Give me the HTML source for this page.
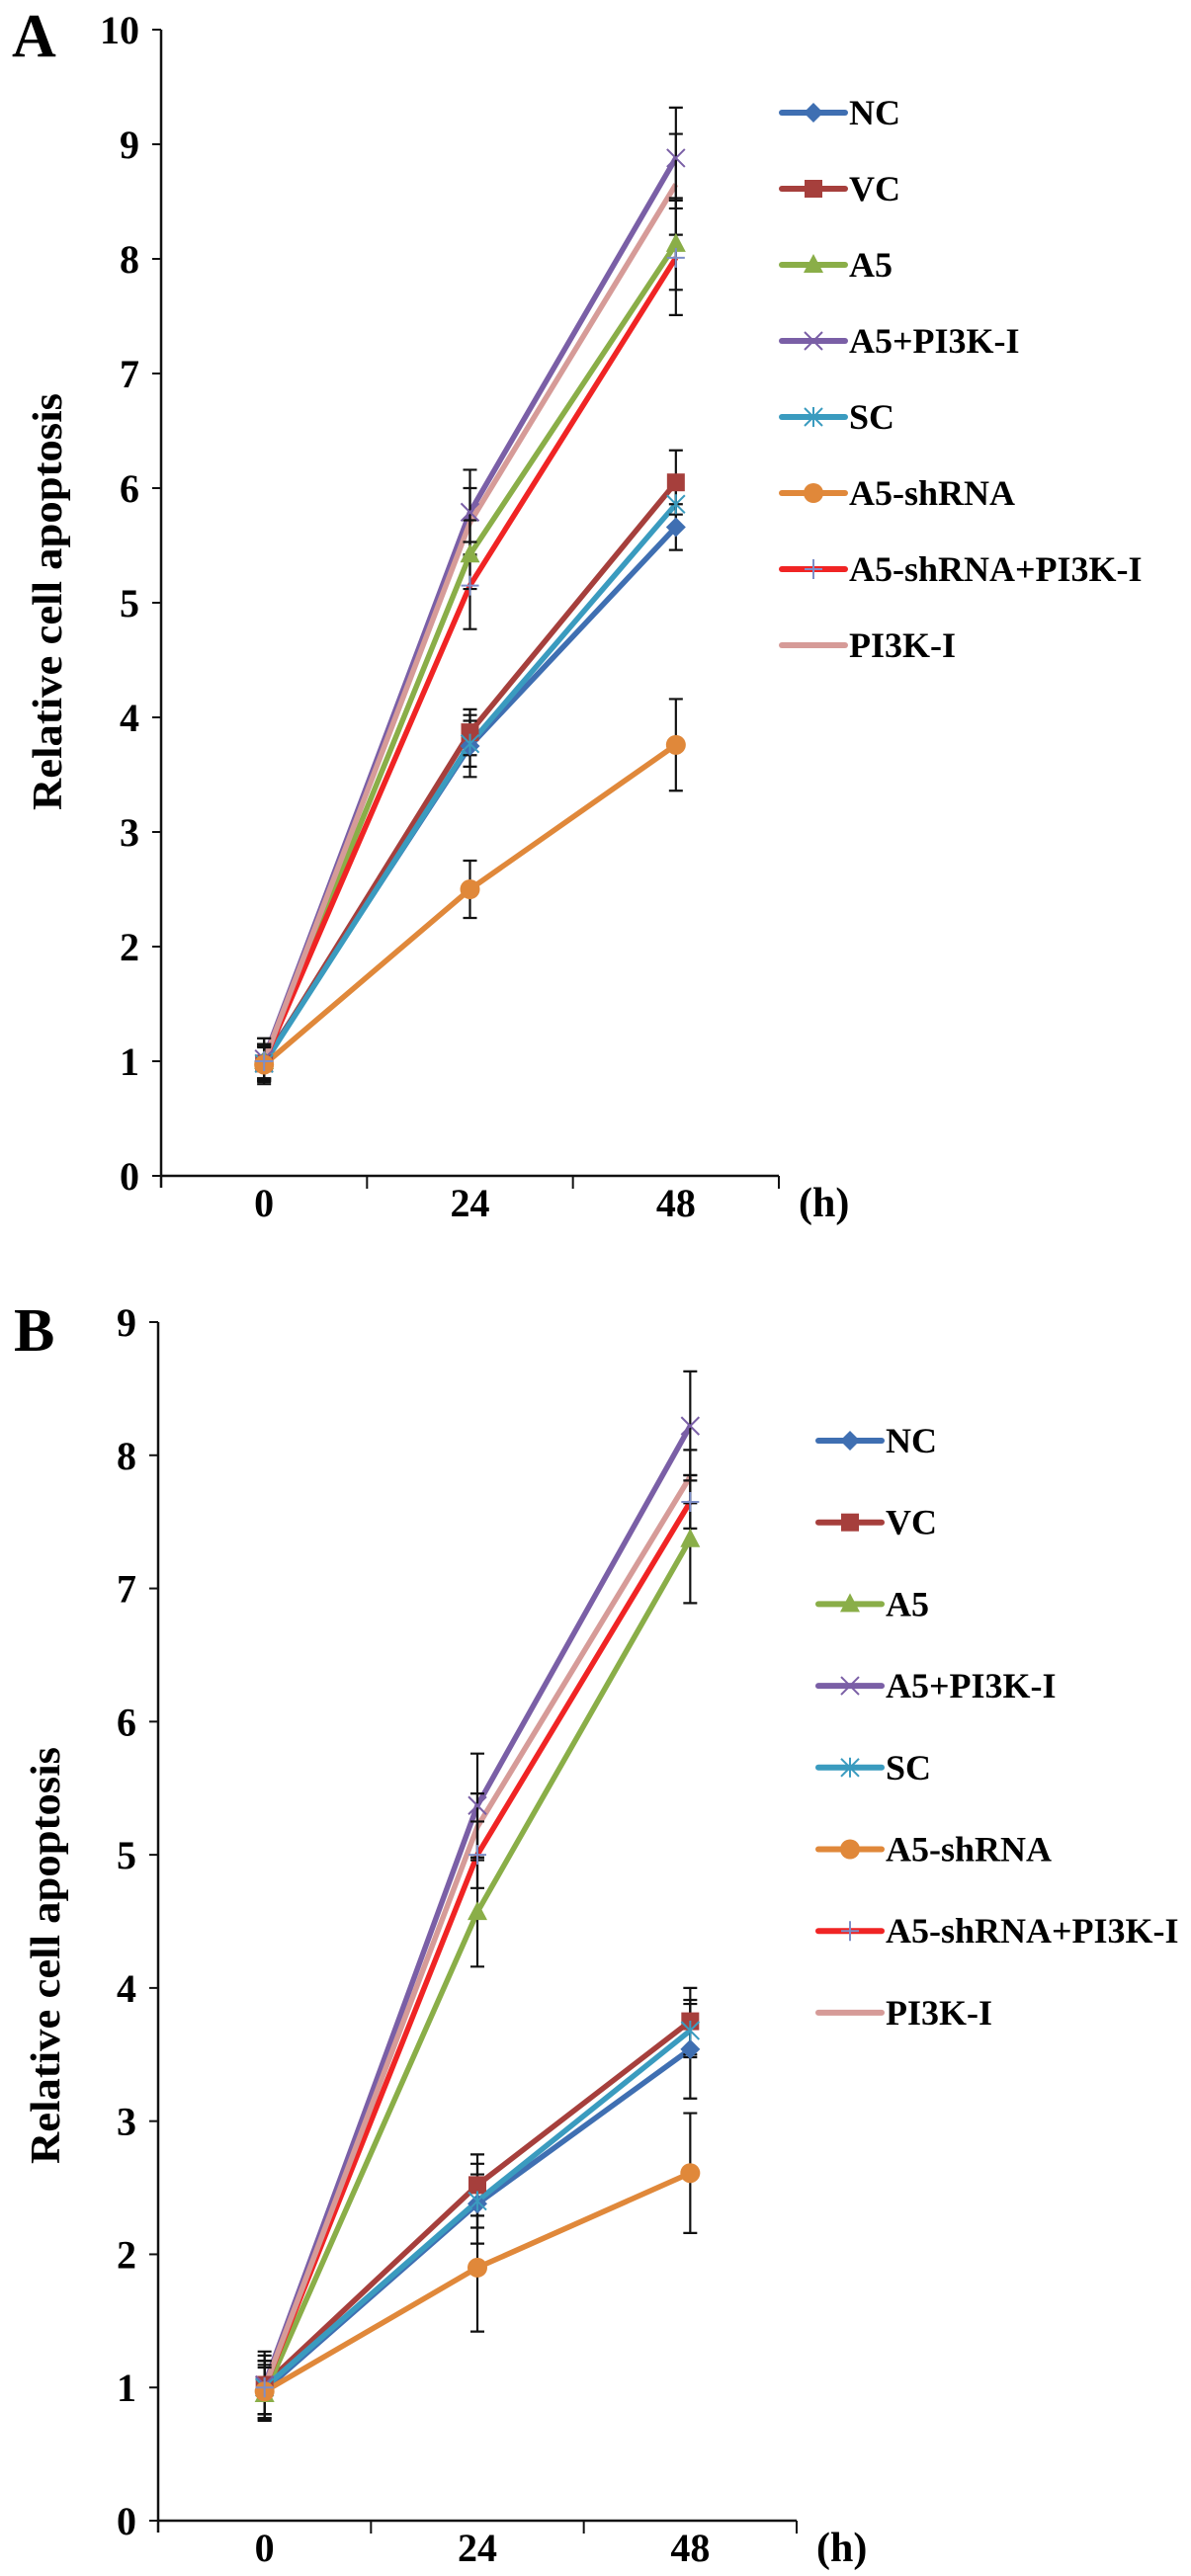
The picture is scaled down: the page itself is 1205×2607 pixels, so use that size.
<!DOCTYPE html>
<html><head><meta charset="utf-8">
<style>
html,body{margin:0;padding:0;background:#fff;}
svg{display:block;}
text{font-family:"Liberation Serif",serif;font-weight:bold;fill:#000;}
</style></head>
<body>
<svg id="fig" width="1205" height="2607" viewBox="0 0 1205 2607" xmlns="http://www.w3.org/2000/svg"></svg>
<script>
const categories = ["0","24","48"];
const seriesNames = ["NC","VC","A5","A5+PI3K-I","SC","A5-shRNA","A5-shRNA+PI3K-I","PI3K-I"];
const seriesColors = ["#3F6FB2","#A63F3C","#8AAE48","#7A5FA6","#3A9BBF","#E0883A","#F02424","#D69B98"];
const seriesMarkers = ["diamond","square","triangle","x","star","circle","plus","none"];
const yTicksA = [0,1,2,3,4,5,6,7,8,9,10];
const yTicksB = [0,1,2,3,4,5,6,7,8,9];
const valuesA_NC = [1.00,3.75,5.66];
const valuesA_VC = [0.98,3.87,6.05];
const valuesA_A5 = [1.00,5.42,8.13];
const valuesA_A5PI3K = [1.02,5.79,8.88];
const valuesA_SC = [0.98,3.77,5.86];
const valuesA_shRNA = [0.97,2.50,3.76];
const valuesA_shRNAPI3K = [1.00,5.15,8.01];
const valuesA_PI3K = [1.00,5.70,8.65];
const errA_NC = [0.20,0.27,0.20];
const errA_VC = [0.15,0.20,0.28];
const errA_A5 = [0.15,0.30,0.40];
const errA_A5PI3K = [0.18,0.37,0.44];
const errA_SC = [0.15,0.20,0.20];
const errA_shRNA = [0.15,0.25,0.40];
const errA_shRNAPI3K = [0.15,0.38,0.50];
const errA_PI3K = [0.15,0.30,0.44];
const valuesB_NC = [0.98,2.38,3.54];
const valuesB_VC = [1.02,2.52,3.75];
const valuesB_A5 = [0.95,4.57,7.37];
const valuesB_A5PI3K = [1.02,5.37,8.22];
const valuesB_SC = [1.00,2.40,3.68];
const valuesB_shRNA = [0.97,1.90,2.61];
const valuesB_shRNAPI3K = [1.00,5.00,7.65];
const valuesB_PI3K = [1.00,5.21,7.84];
const errB_NC = [0.22,0.30,0.37];
const errB_VC = [0.25,0.23,0.25];
const errB_A5 = [0.20,0.41,0.48];
const errB_A5PI3K = [0.22,0.39,0.41];
const errB_SC = [0.20,0.20,0.20];
const errB_shRNA = [0.20,0.48,0.45];
const errB_shRNAPI3K = [0.20,0.25,0.20];
const errB_PI3K = [0.20,0.25,0.20];

const NS = "http://www.w3.org/2000/svg";
const svg = document.getElementById("fig");
function mk(tag, attrs, parent){
  const e = document.createElementNS(NS, tag);
  for (const k in attrs) e.setAttribute(k, attrs[k]);
  (parent||svg).appendChild(e);
  return e;
}

function drawPanel(cfg){
  const g = mk("g", {});
  
  
  const yMax = cfg.ticks[cfg.ticks.length-1];
  const ys = v => cfg.y0 - (cfg.y0 - cfg.yTop) * v / yMax;
  const bw = (cfg.xR - cfg.xL) / categories.length;
  const xs = i => cfg.xL + bw * (i + 0.5);

  const lab = mk("text", {x:cfg.letterX, y:cfg.letterY, "font-size":62}, g);
  lab.textContent = cfg.letter;
  
  

  const yax = mk("line", {x1:cfg.xL, y1:cfg.yTop, x2:cfg.xL, y2:cfg.y0+12, stroke:"#111", "stroke-width":2.5}, g);
  
  
  cfg.ticks.forEach(t => {
    const y = ys(t);
    const tk = mk("line", {x1:cfg.xL-9, y1:y, x2:cfg.xL, y2:y, stroke:"#111", "stroke-width":2}, g);
    
    
    const tl = mk("text", {x:cfg.xL-22, y:y+14, "font-size":40, "text-anchor":"end"}, g);
    tl.textContent = t;
    
    
  });
  const xax = mk("line", {x1:cfg.xL, y1:cfg.y0, x2:cfg.xR, y2:cfg.y0, stroke:"#111", "stroke-width":2.5}, g);
  
  
  for (let i=1;i<=categories.length;i++){
    const x = cfg.xL + bw*i;
    const tk = mk("line", {x1:x, y1:cfg.y0, x2:x, y2:cfg.y0+13, stroke:"#111", "stroke-width":2}, g);
    
    
  }
  categories.forEach((c,i) => {
    const tl = mk("text", {x:xs(i), y:cfg.y0+41, "font-size":40, "text-anchor":"middle"}, g);
    tl.textContent = c;
    
    
  });
  const unit = mk("text", {x:cfg.xR+20, y:cfg.y0+41, "font-size":42}, g);
  unit.textContent = "(h)";
  
  
  const yt = mk("text", {x:0, y:0, "font-size":42, "text-anchor":"middle", textLength:422, lengthAdjust:"spacingAndGlyphs",
    transform:`translate(${cfg.titleX},${cfg.titleY}) rotate(-90)`}, g);
  yt.textContent = "Relative cell apoptosis";
  
  

  cfg.values.forEach((vals, s) => {
    const pts = vals.map((v,i) => xs(i)+","+ys(v)).join(" ");
    const pl = mk("polyline", {points:pts, fill:"none", stroke:seriesColors[s], "stroke-width":5.5, "stroke-linejoin":"round"}, g);
    
    
  });
  cfg.values.forEach((vals, s) => {
    vals.forEach((v,i) => {
      const e = cfg.errs[s][i];
      const x = xs(i), y1 = ys(v+e), y2 = ys(v-e);
      const eb = mk("path", {d:`M${x},${y1}V${y2}M${x-7},${y1}H${x+7}M${x-7},${y2}H${x+7}`, stroke:"#111", "stroke-width":2.2, fill:"none"}, g);
      
      
    });
  });
  cfg.values.forEach((vals, s) => {
    vals.forEach((v,i) => {
      const m = drawMarker(g, seriesMarkers[s], xs(i), ys(v), seriesColors[s]);
      if (m){
        
        
      }
    });
  });
  seriesNames.forEach((n, s) => {
    const y = cfg.legY + cfg.legStep * s;
    const lg = mk("g", {}, g);
    
    
    mk("line", {x1:cfg.legX, y1:y, x2:cfg.legX+64, y2:y, stroke:seriesColors[s], "stroke-width":6, "stroke-linecap":"round"}, lg);
    drawMarker(lg, seriesMarkers[s], cfg.legX+32, y, seriesColors[s]);
    const t = mk("text", {x:cfg.legX+68, y:y+12, "font-size":36}, lg);
    t.textContent = n;
  });
}

function drawMarker(parent, type, x, y, c){
  const r = 10;
  if (type==="diamond") return mk("polygon", {points:`${x},${y-r} ${x+r},${y} ${x},${y+r} ${x-r},${y}`, fill:c}, parent);
  if (type==="square") return mk("rect", {x:x-9, y:y-9, width:18, height:18, fill:c}, parent);
  if (type==="triangle") return mk("polygon", {points:`${x},${y-11} ${x+10},${y+8} ${x-10},${y+8}`, fill:c}, parent);
  if (type==="circle") return mk("circle", {cx:x, cy:y, r:10, fill:c}, parent);
  if (type==="x") return mk("path", {d:`M${x-9},${y-9}L${x+9},${y+9}M${x-9},${y+9}L${x+9},${y-9}`, stroke:c, "stroke-width":2}, parent);
  if (type==="star") return mk("path", {d:`M${x-9},${y-9}L${x+9},${y+9}M${x-9},${y+9}L${x+9},${y-9}M${x},${y-10}V${y+10}`, stroke:c, "stroke-width":2}, parent);
  if (type==="plus") return mk("path", {d:`M${x-9},${y}H${x+9}M${x},${y-10}V${y+10}`, stroke:"#7d8ec8", "stroke-width":2}, parent);
  return null;
}

drawPanel({name:"panel-a-chart", letter:"A", letterX:12, letterY:57,
  xL:163, xR:788, y0:1190, yTop:30, ticks:yTicksA, titleX:62, titleY:609,
  values:[valuesA_NC,valuesA_VC,valuesA_A5,valuesA_A5PI3K,valuesA_SC,valuesA_shRNA,valuesA_shRNAPI3K,valuesA_PI3K],
  errs:[errA_NC,errA_VC,errA_A5,errA_A5PI3K,errA_SC,errA_shRNA,errA_shRNAPI3K,errA_PI3K],
  legX:791, legY:114, legStep:77});
drawPanel({name:"panel-b-chart", letter:"B", letterX:14, letterY:1367,
  xL:160, xR:806, y0:2551, yTop:1338, ticks:yTicksB, titleX:60, titleY:1979,
  values:[valuesB_NC,valuesB_VC,valuesB_A5,valuesB_A5PI3K,valuesB_SC,valuesB_shRNA,valuesB_shRNAPI3K,valuesB_PI3K],
  errs:[errB_NC,errB_VC,errB_A5,errB_A5PI3K,errB_SC,errB_shRNA,errB_shRNAPI3K,errB_PI3K],
  legX:828, legY:1458, legStep:82.7});
</script>
</body></html>
